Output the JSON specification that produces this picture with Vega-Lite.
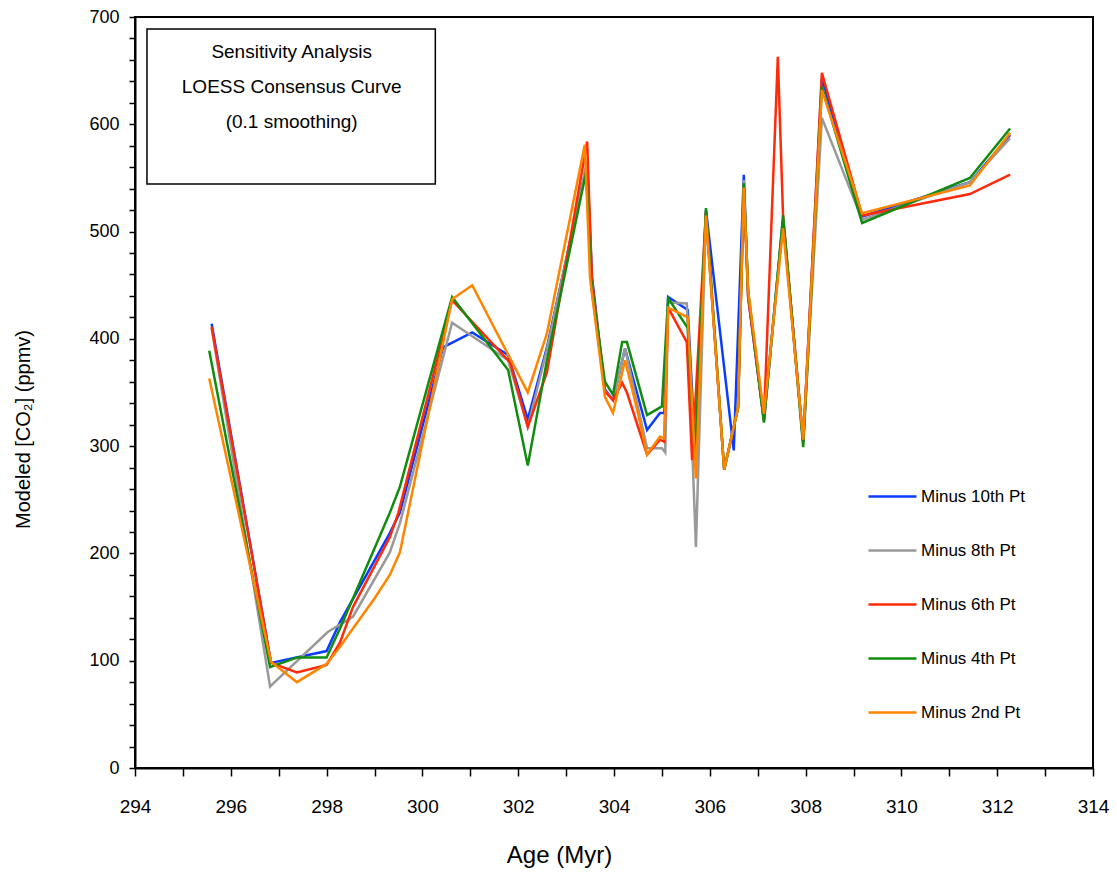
{
  "$schema": "https://vega.github.io/schema/vega-lite/v6.json",
  "width": 958,
  "height": 751,
  "autosize": "none",
  "padding": {"left": 135, "top": 17, "right": 24, "bottom": 109},
  "background": "white",
  "config": {
    "view": {"stroke": "black", "strokeWidth": 2},
    "font": "Liberation Sans",
    "axis": {"grid": false, "domainColor": "black", "domainWidth": 2, "tickColor": "black", "tickWidth": 1.5, "labelColor": "black", "titleColor": "black", "titleFontWeight": "normal"}
  },
  "data": {"values": [
    {"s":"Minus 10th Pt","age":295.6,"co2":414},{"s":"Minus 10th Pt","age":296.84,"co2":98},{"s":"Minus 10th Pt","age":298.0,"co2":109},{"s":"Minus 10th Pt","age":298.28,"co2":136},{"s":"Minus 10th Pt","age":299.32,"co2":219},{"s":"Minus 10th Pt","age":299.53,"co2":238},{"s":"Minus 10th Pt","age":300.43,"co2":392},{"s":"Minus 10th Pt","age":301.04,"co2":406},{"s":"Minus 10th Pt","age":301.79,"co2":385},{"s":"Minus 10th Pt","age":302.2,"co2":325},{"s":"Minus 10th Pt","age":302.6,"co2":392},{"s":"Minus 10th Pt","age":303.44,"co2":564},{"s":"Minus 10th Pt","age":303.54,"co2":458},{"s":"Minus 10th Pt","age":303.81,"co2":353},{"s":"Minus 10th Pt","age":303.98,"co2":343},{"s":"Minus 10th Pt","age":304.23,"co2":391},{"s":"Minus 10th Pt","age":304.69,"co2":315},{"s":"Minus 10th Pt","age":304.96,"co2":331},{"s":"Minus 10th Pt","age":305.05,"co2":331},{"s":"Minus 10th Pt","age":305.13,"co2":439},{"s":"Minus 10th Pt","age":305.54,"co2":427},{"s":"Minus 10th Pt","age":305.71,"co2":284},{"s":"Minus 10th Pt","age":305.92,"co2":520},{"s":"Minus 10th Pt","age":306.5,"co2":296},{"s":"Minus 10th Pt","age":306.71,"co2":553},{"s":"Minus 10th Pt","age":306.8,"co2":439},{"s":"Minus 10th Pt","age":307.13,"co2":324},{"s":"Minus 10th Pt","age":307.53,"co2":512},{"s":"Minus 10th Pt","age":307.95,"co2":304},{"s":"Minus 10th Pt","age":308.34,"co2":643},{"s":"Minus 10th Pt","age":309.18,"co2":514},{"s":"Minus 10th Pt","age":311.43,"co2":546},{"s":"Minus 10th Pt","age":312.27,"co2":590},
    {"s":"Minus 8th Pt","age":295.6,"co2":410},{"s":"Minus 8th Pt","age":296.82,"co2":76},{"s":"Minus 8th Pt","age":298.03,"co2":127},{"s":"Minus 8th Pt","age":298.55,"co2":141},{"s":"Minus 8th Pt","age":299.32,"co2":201},{"s":"Minus 8th Pt","age":299.53,"co2":228},{"s":"Minus 8th Pt","age":300.62,"co2":415},{"s":"Minus 8th Pt","age":301.79,"co2":380},{"s":"Minus 8th Pt","age":302.2,"co2":318},{"s":"Minus 8th Pt","age":302.6,"co2":390},{"s":"Minus 8th Pt","age":303.44,"co2":565},{"s":"Minus 8th Pt","age":303.52,"co2":450},{"s":"Minus 8th Pt","age":303.81,"co2":352},{"s":"Minus 8th Pt","age":303.98,"co2":343},{"s":"Minus 8th Pt","age":304.23,"co2":391},{"s":"Minus 8th Pt","age":304.69,"co2":298},{"s":"Minus 8th Pt","age":305.0,"co2":298},{"s":"Minus 8th Pt","age":305.07,"co2":294},{"s":"Minus 8th Pt","age":305.13,"co2":434},{"s":"Minus 8th Pt","age":305.52,"co2":433},{"s":"Minus 8th Pt","age":305.71,"co2":206},{"s":"Minus 8th Pt","age":305.92,"co2":515},{"s":"Minus 8th Pt","age":306.3,"co2":278},{"s":"Minus 8th Pt","age":306.59,"co2":336},{"s":"Minus 8th Pt","age":306.71,"co2":548},{"s":"Minus 8th Pt","age":306.8,"co2":442},{"s":"Minus 8th Pt","age":307.13,"co2":325},{"s":"Minus 8th Pt","age":307.53,"co2":510},{"s":"Minus 8th Pt","age":307.95,"co2":304},{"s":"Minus 8th Pt","age":308.34,"co2":606},{"s":"Minus 8th Pt","age":309.18,"co2":511},{"s":"Minus 8th Pt","age":311.43,"co2":546},{"s":"Minus 8th Pt","age":312.27,"co2":587},
    {"s":"Minus 6th Pt","age":295.6,"co2":411},{"s":"Minus 6th Pt","age":296.84,"co2":98},{"s":"Minus 6th Pt","age":297.38,"co2":89},{"s":"Minus 6th Pt","age":298.0,"co2":96},{"s":"Minus 6th Pt","age":298.28,"co2":117},{"s":"Minus 6th Pt","age":298.55,"co2":150},{"s":"Minus 6th Pt","age":299.32,"co2":215},{"s":"Minus 6th Pt","age":299.5,"co2":238},{"s":"Minus 6th Pt","age":300.62,"co2":436},{"s":"Minus 6th Pt","age":301.83,"co2":378},{"s":"Minus 6th Pt","age":302.2,"co2":318},{"s":"Minus 6th Pt","age":302.6,"co2":369},{"s":"Minus 6th Pt","age":303.44,"co2":584},{"s":"Minus 6th Pt","age":303.54,"co2":455},{"s":"Minus 6th Pt","age":303.81,"co2":351},{"s":"Minus 6th Pt","age":303.98,"co2":343},{"s":"Minus 6th Pt","age":304.17,"co2":359},{"s":"Minus 6th Pt","age":304.27,"co2":350},{"s":"Minus 6th Pt","age":304.69,"co2":292},{"s":"Minus 6th Pt","age":304.96,"co2":306},{"s":"Minus 6th Pt","age":305.05,"co2":304},{"s":"Minus 6th Pt","age":305.13,"co2":429},{"s":"Minus 6th Pt","age":305.52,"co2":397},{"s":"Minus 6th Pt","age":305.63,"co2":287},{"s":"Minus 6th Pt","age":305.92,"co2":518},{"s":"Minus 6th Pt","age":306.3,"co2":278},{"s":"Minus 6th Pt","age":306.59,"co2":336},{"s":"Minus 6th Pt","age":306.71,"co2":541},{"s":"Minus 6th Pt","age":306.8,"co2":439},{"s":"Minus 6th Pt","age":307.13,"co2":324},{"s":"Minus 6th Pt","age":307.42,"co2":663},{"s":"Minus 6th Pt","age":307.53,"co2":514},{"s":"Minus 6th Pt","age":307.95,"co2":304},{"s":"Minus 6th Pt","age":308.34,"co2":648},{"s":"Minus 6th Pt","age":309.18,"co2":515},{"s":"Minus 6th Pt","age":311.43,"co2":535},{"s":"Minus 6th Pt","age":312.27,"co2":553},
    {"s":"Minus 4th Pt","age":295.55,"co2":389},{"s":"Minus 4th Pt","age":296.82,"co2":94},{"s":"Minus 4th Pt","age":297.38,"co2":103},{"s":"Minus 4th Pt","age":298.0,"co2":103},{"s":"Minus 4th Pt","age":298.28,"co2":130},{"s":"Minus 4th Pt","age":299.32,"co2":238},{"s":"Minus 4th Pt","age":299.53,"co2":262},{"s":"Minus 4th Pt","age":300.62,"co2":439},{"s":"Minus 4th Pt","age":301.79,"co2":371},{"s":"Minus 4th Pt","age":302.2,"co2":282},{"s":"Minus 4th Pt","age":302.6,"co2":380},{"s":"Minus 4th Pt","age":303.42,"co2":556},{"s":"Minus 4th Pt","age":303.52,"co2":455},{"s":"Minus 4th Pt","age":303.81,"co2":360},{"s":"Minus 4th Pt","age":303.98,"co2":348},{"s":"Minus 4th Pt","age":304.17,"co2":397},{"s":"Minus 4th Pt","age":304.27,"co2":397},{"s":"Minus 4th Pt","age":304.69,"co2":329},{"s":"Minus 4th Pt","age":305.0,"co2":337},{"s":"Minus 4th Pt","age":305.13,"co2":438},{"s":"Minus 4th Pt","age":305.54,"co2":410},{"s":"Minus 4th Pt","age":305.69,"co2":290},{"s":"Minus 4th Pt","age":305.92,"co2":522},{"s":"Minus 4th Pt","age":306.3,"co2":278},{"s":"Minus 4th Pt","age":306.59,"co2":336},{"s":"Minus 4th Pt","age":306.71,"co2":545},{"s":"Minus 4th Pt","age":306.8,"co2":445},{"s":"Minus 4th Pt","age":307.13,"co2":322},{"s":"Minus 4th Pt","age":307.53,"co2":515},{"s":"Minus 4th Pt","age":307.95,"co2":299},{"s":"Minus 4th Pt","age":308.34,"co2":635},{"s":"Minus 4th Pt","age":309.18,"co2":508},{"s":"Minus 4th Pt","age":311.43,"co2":550},{"s":"Minus 4th Pt","age":312.27,"co2":596},
    {"s":"Minus 2nd Pt","age":295.55,"co2":363},{"s":"Minus 2nd Pt","age":296.84,"co2":99},{"s":"Minus 2nd Pt","age":297.38,"co2":80},{"s":"Minus 2nd Pt","age":298.0,"co2":97},{"s":"Minus 2nd Pt","age":298.28,"co2":113},{"s":"Minus 2nd Pt","age":298.55,"co2":130},{"s":"Minus 2nd Pt","age":299.0,"co2":158},{"s":"Minus 2nd Pt","age":299.32,"co2":180},{"s":"Minus 2nd Pt","age":299.53,"co2":201},{"s":"Minus 2nd Pt","age":300.62,"co2":437},{"s":"Minus 2nd Pt","age":301.04,"co2":450},{"s":"Minus 2nd Pt","age":302.2,"co2":350},{"s":"Minus 2nd Pt","age":302.6,"co2":405},{"s":"Minus 2nd Pt","age":303.39,"co2":581},{"s":"Minus 2nd Pt","age":303.5,"co2":457},{"s":"Minus 2nd Pt","age":303.81,"co2":346},{"s":"Minus 2nd Pt","age":303.98,"co2":331},{"s":"Minus 2nd Pt","age":304.23,"co2":380},{"s":"Minus 2nd Pt","age":304.5,"co2":331},{"s":"Minus 2nd Pt","age":304.69,"co2":292},{"s":"Minus 2nd Pt","age":304.96,"co2":309},{"s":"Minus 2nd Pt","age":305.05,"co2":307},{"s":"Minus 2nd Pt","age":305.13,"co2":429},{"s":"Minus 2nd Pt","age":305.54,"co2":420},{"s":"Minus 2nd Pt","age":305.71,"co2":270},{"s":"Minus 2nd Pt","age":305.92,"co2":515},{"s":"Minus 2nd Pt","age":306.3,"co2":278},{"s":"Minus 2nd Pt","age":306.59,"co2":336},{"s":"Minus 2nd Pt","age":306.71,"co2":541},{"s":"Minus 2nd Pt","age":306.8,"co2":445},{"s":"Minus 2nd Pt","age":307.13,"co2":330},{"s":"Minus 2nd Pt","age":307.53,"co2":503},{"s":"Minus 2nd Pt","age":307.95,"co2":306},{"s":"Minus 2nd Pt","age":308.34,"co2":632},{"s":"Minus 2nd Pt","age":309.18,"co2":517},{"s":"Minus 2nd Pt","age":311.43,"co2":543},{"s":"Minus 2nd Pt","age":312.27,"co2":592}
  ]},
  "layer": [
    {
      "mark": {"type": "line", "strokeWidth": 2.5, "clip": true},
      "encoding": {
        "x": {"field": "age", "type": "quantitative",
          "scale": {"domain": [294, 314], "nice": false, "zero": false},
          "axis": {"values": [294,294.5,295,295.5,296,296.5,297,297.5,298,298.5,299,299.5,300,300.5,301,301.5,302,302.5,303,303.5,304,304.5,305,305.5,306,306.5,307,307.5,308,308.5,309,309.5,310,310.5,311,311.5,312,312.5,313,313.5,314],
            "format": "d", "labelExpr": "datum.value % 2 === 0 ? datum.label : ''",
            "tickSize": 8, "labelPadding": 21, "labelFontSize": 19, "labelOverlap": false, "labelFlush": false,
            "title": "Age (Myr)", "titleFontSize": 24, "titleX": 424, "titleY": 75}},
        "y": {"field": "co2", "type": "quantitative",
          "scale": {"domain": [0, 700], "nice": false},
          "axis": {"values": [0,20,40,60,80,100,120,140,160,180,200,220,240,260,280,300,320,340,360,380,400,420,440,460,480,500,520,540,560,580,600,620,640,660,680,700],
            "format": "d", "labelExpr": "datum.value % 100 === 0 ? datum.label : ''",
            "tickSize": 6, "labelPadding": 10, "labelFontSize": 18, "labelOverlap": false, "labelFlush": false,
            "title": "Modeled [CO₂]  (ppmv)", "titleFontSize": 20, "titleX": -102, "titleY": 412}},
        "color": {"field": "s", "type": "nominal",
          "scale": {"domain": ["Minus 10th Pt","Minus 8th Pt","Minus 6th Pt","Minus 4th Pt","Minus 2nd Pt"],
                    "range": ["#0a3cff","#999999","#ff2a0a","#118c11","#ff8400"]},
          "legend": {"title": null, "orient": "none", "legendX": 732, "legendY": 454,
            "symbolType": "stroke", "symbolSize": 2304, "symbolStrokeWidth": 2.5,
            "labelFontSize": 17, "labelOffset": 3, "rowPadding": 20, "padding": 0, "labelColor": "black"}},
        "order": {"field": "age", "type": "quantitative"}
      }
    },
    {
      "data": {"values": [{}]},
      "mark": {"type": "rect", "fill": "white", "stroke": "black", "strokeWidth": 1.5},
      "encoding": {
        "x": {"datum": 294.25, "type": "quantitative",
          "axis": {"values": [294,294.5,295,295.5,296,296.5,297,297.5,298,298.5,299,299.5,300,300.5,301,301.5,302,302.5,303,303.5,304,304.5,305,305.5,306,306.5,307,307.5,308,308.5,309,309.5,310,310.5,311,311.5,312,312.5,313,313.5,314],
            "format": "d", "labelExpr": "datum.value % 2 === 0 ? datum.label : ''",
            "tickSize": 8, "labelPadding": 21, "labelFontSize": 19, "labelOverlap": false, "labelFlush": false,
            "title": "Age (Myr)", "titleFontSize": 24, "titleX": 424, "titleY": 75}},
        "x2": {"datum": 300.27},
        "y": {"datum": 688.7, "type": "quantitative",
          "axis": {"values": [0,20,40,60,80,100,120,140,160,180,200,220,240,260,280,300,320,340,360,380,400,420,440,460,480,500,520,540,560,580,600,620,640,660,680,700],
            "format": "d", "labelExpr": "datum.value % 100 === 0 ? datum.label : ''",
            "tickSize": 6, "labelPadding": 10, "labelFontSize": 18, "labelOverlap": false, "labelFlush": false,
            "title": "Modeled [CO₂]  (ppmv)", "titleFontSize": 20, "titleX": -102, "titleY": 412}},
        "y2": {"datum": 544.3}}
    },
    {
      "data": {"values": [{}]},
      "mark": {"type": "text", "fontSize": 19, "lineHeight": 35, "align": "center", "baseline": "middle", "color": "black"},
      "encoding": {
        "x": {"datum": 297.27, "type": "quantitative",
          "axis": {"values": [294,294.5,295,295.5,296,296.5,297,297.5,298,298.5,299,299.5,300,300.5,301,301.5,302,302.5,303,303.5,304,304.5,305,305.5,306,306.5,307,307.5,308,308.5,309,309.5,310,310.5,311,311.5,312,312.5,313,313.5,314],
            "format": "d", "labelExpr": "datum.value % 2 === 0 ? datum.label : ''",
            "tickSize": 8, "labelPadding": 21, "labelFontSize": 19, "labelOverlap": false, "labelFlush": false,
            "title": "Age (Myr)", "titleFontSize": 24, "titleX": 424, "titleY": 75}},
        "y": {"datum": 667.3, "type": "quantitative",
          "axis": {"values": [0,20,40,60,80,100,120,140,160,180,200,220,240,260,280,300,320,340,360,380,400,420,440,460,480,500,520,540,560,580,600,620,640,660,680,700],
            "format": "d", "labelExpr": "datum.value % 100 === 0 ? datum.label : ''",
            "tickSize": 6, "labelPadding": 10, "labelFontSize": 18, "labelOverlap": false, "labelFlush": false,
            "title": "Modeled [CO₂]  (ppmv)", "titleFontSize": 20, "titleX": -102, "titleY": 412}},
        "text": {"value": ["Sensitivity Analysis", "LOESS Consensus Curve", "(0.1 smoothing)"]}}
    }
  ]
}
